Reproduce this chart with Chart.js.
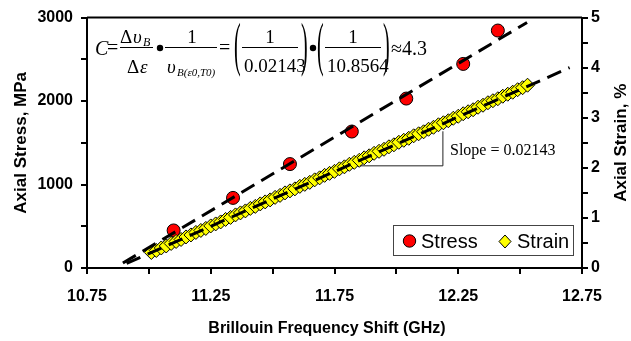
<!DOCTYPE html>
<html>
<head>
<meta charset="utf-8">
<script src="https://cdn.jsdelivr.net/npm/chart.js@4.4.1/dist/chart.umd.min.js"></script>
<style>
  body { margin: 0; background: #fff; }
  #wrap { width: 631px; height: 341px; }
</style>
</head>
<body>
<div id="wrap"><canvas id="chart" width="631" height="341"></canvas></div>
<script>
// stress points (red circles)
const stressFreq = [11.10, 11.34, 11.57, 11.82, 12.04, 12.27, 12.41];
const stressVal = [450, 840, 1245, 1635, 2030, 2445, 2845];

// strain points (yellow diamonds, densely packed)
const strainFreq = [
  11.01, 11.03, 11.05, 11.07, 11.09, 11.11, 11.13, 11.15, 11.17, 11.19,
  11.21, 11.23, 11.25, 11.27, 11.29, 11.31, 11.33, 11.35, 11.37, 11.39,
  11.41, 11.43, 11.45, 11.47, 11.49, 11.51, 11.53, 11.55, 11.57, 11.59,
  11.61, 11.63, 11.65, 11.67, 11.69, 11.71, 11.73, 11.75, 11.77, 11.79,
  11.81, 11.83, 11.85, 11.87, 11.89, 11.91, 11.93, 11.95, 11.97, 11.99,
  12.01, 12.03, 12.05, 12.07, 12.09, 12.11, 12.13, 12.15, 12.17, 12.19,
  12.21, 12.23, 12.25, 12.27, 12.29, 12.31, 12.33, 12.35, 12.37, 12.39,
  12.41, 12.43, 12.45, 12.47, 12.49, 12.51, 12.53
];
const strainVal = [
  0.31, 0.35, 0.40, 0.44, 0.49, 0.53, 0.57, 0.62, 0.66, 0.71,
  0.75, 0.79, 0.84, 0.88, 0.92, 0.97, 1.01, 1.06, 1.10, 1.14,
  1.19, 1.23, 1.28, 1.32, 1.36, 1.41, 1.45, 1.50, 1.54, 1.58,
  1.63, 1.67, 1.71, 1.76, 1.80, 1.85, 1.89, 1.93, 1.98, 2.02,
  2.07, 2.11, 2.15, 2.20, 2.24, 2.29, 2.33, 2.37, 2.42, 2.46,
  2.51, 2.55, 2.59, 2.64, 2.68, 2.72, 2.77, 2.81, 2.86, 2.90,
  2.94, 2.99, 3.03, 3.08, 3.12, 3.16, 3.21, 3.25, 3.30, 3.34,
  3.38, 3.43, 3.47, 3.51, 3.56, 3.60, 3.65
];

// dashed trend lines (end points)
const stressTrendFreq = [10.895, 12.528];
const stressTrendVal = [59, 2941];
const strainTrendFreq = [10.91, 12.70];
const strainTrendVal = [0.09, 4.0];

// slope triangle under the strain line
const slopeFreq = [11.853, 12.188, 12.188];
const slopeVal = [2.04, 2.04, 2.73];

const xTicks = [10.75, 11.25, 11.75, 12.25, 12.75];
const stressTicks = [0, 1000, 2000, 3000];
const strainTicks = [0, 1, 2, 3, 4, 5];

const sans = "'Liberation Sans', Arial, sans-serif";
const serif = "'Liberation Serif', 'Times New Roman', serif";

function pts(xs, ys) {
  return xs.map((x, i) => ({ x: x, y: ys[i] }));
}

function isIn(list, v) {
  return list.some(t => Math.abs(t - v) < 1e-6);
}

// formula, titles, legend, frame
const extras = {
  id: "extras",
  afterDraw(chart) {
    const ctx = chart.ctx;
    const a = chart.chartArea;
    ctx.save();
    ctx.fillStyle = "#000";
    ctx.strokeStyle = "#000";

    // top edge of the plot frame
    ctx.lineWidth = 2;
    ctx.beginPath();
    ctx.moveTo(a.left, a.top);
    ctx.lineTo(a.right, a.top);
    ctx.stroke();

    // axis titles
    ctx.font = "bold 17px " + sans;
    ctx.textAlign = "center";
    ctx.textBaseline = "middle";
    const midY = (a.top + a.bottom) / 2;
    ctx.save();
    ctx.translate(21, midY);
    ctx.rotate(-Math.PI / 2);
    ctx.fillText("Axial Stress, MPa", 0, 0);
    ctx.restore();
    ctx.save();
    ctx.translate(621, midY);
    ctx.rotate(-Math.PI / 2);
    ctx.fillText("Axial Strain, %", 0, 0);
    ctx.restore();
    ctx.font = "bold 16px " + sans;
    ctx.fillText("Brillouin Frequency Shift (GHz)", 327, 329);

    // formula
    ctx.textAlign = "left";
    ctx.textBaseline = "alphabetic";
    ctx.lineWidth = 1;
    const it = s => "italic " + s + "px " + serif;
    const rm = s => s + "px " + serif;
    const bar = (x1, x2, y) => {
      ctx.beginPath();
      ctx.moveTo(x1, y + 0.5);
      ctx.lineTo(x2, y + 0.5);
      ctx.stroke();
    };
    const dot = x => {
      ctx.beginPath();
      ctx.arc(x, 48, 3.2, 0, Math.PI * 2);
      ctx.fill();
    };
    const paren = (ch, x) => {
      ctx.save();
      ctx.translate(x, 48.5);
      ctx.scale(1, 3.0);
      ctx.font = rm(20);
      ctx.fillText(ch, 0, 5);
      ctx.restore();
    };
    ctx.font = it(20);
    ctx.fillText("C", 95, 55);
    ctx.font = rm(20);
    ctx.fillText("=", 107, 54);
    // dv/de
    ctx.font = rm(19);
    ctx.fillText("\u0394", 120, 43);
    ctx.font = it(19);
    ctx.fillText("\u03c5", 133, 43);
    ctx.font = it(12);
    ctx.fillText("B", 143, 46);
    bar(120, 153, 47);
    ctx.font = rm(19);
    ctx.fillText("\u0394", 127, 73);
    ctx.font = it(19);
    ctx.fillText("\u03b5", 140, 73);
    dot(160);
    // 1/v
    ctx.font = rm(19);
    ctx.textAlign = "center";
    ctx.fillText("1", 192, 43);
    ctx.textAlign = "left";
    bar(165, 217, 47);
    ctx.font = it(19);
    ctx.fillText("\u03c5", 167, 73);
    ctx.font = it(11);
    ctx.fillText("B(\u03b50,T0)", 177, 76);
    ctx.font = rm(20);
    ctx.fillText("=", 219, 54);
    // (1/0.02143)
    paren("(", 234);
    ctx.font = rm(19);
    ctx.textAlign = "center";
    ctx.fillText("1", 270, 43);
    ctx.textAlign = "left";
    bar(242, 298, 47);
    ctx.fillText("0.02143", 244, 72);
    paren(")", 301);
    dot(313);
    // (1/10.8564)
    paren("(", 317);
    ctx.font = rm(19);
    ctx.textAlign = "center";
    ctx.fillText("1", 353, 43);
    ctx.textAlign = "left";
    bar(325, 381, 47);
    ctx.fillText("10.8564", 327, 72);
    paren(")", 383);
    ctx.font = rm(20);
    ctx.fillText("\u22484.3", 391, 55);

    // slope label
    ctx.font = rm(16);
    ctx.fillText("Slope = 0.02143", 450, 155);

    // legend
    ctx.fillStyle = "#fff";
    ctx.fillRect(393, 225, 180, 30);
    ctx.strokeStyle = "#444";
    ctx.lineWidth = 1;
    ctx.strokeRect(393.5, 225.5, 180, 30);
    ctx.strokeStyle = "#000";
    ctx.fillStyle = "#ff0000";
    ctx.beginPath();
    ctx.arc(409.5, 241, 6.2, 0, Math.PI * 2);
    ctx.fill();
    ctx.stroke();
    ctx.fillStyle = "#ffff00";
    ctx.beginPath();
    ctx.moveTo(505, 235);
    ctx.lineTo(511, 241.5);
    ctx.lineTo(505, 248);
    ctx.lineTo(499, 241.5);
    ctx.closePath();
    ctx.fill();
    ctx.stroke();
    ctx.fillStyle = "#000";
    ctx.font = "20px " + sans;
    ctx.textBaseline = "middle";
    ctx.fillText("Stress", 421, 242);
    ctx.fillText("Strain", 517, 242);

    ctx.restore();
  }
};

const tickGrid = {
  drawOnChartArea: false,
  drawTicks: true,
  tickLength: 6,
  color: "#000",
  lineWidth: 2
};

new Chart(document.getElementById("chart").getContext("2d"), {
  type: "scatter",
  data: {
    datasets: [
      {
        label: "Stress trend",
        data: pts(stressTrendFreq, stressTrendVal),
        yAxisID: "y",
        showLine: true,
        borderColor: "#000",
        borderWidth: 3,
        borderDash: [15, 8],
        pointRadius: 0,
        order: 1
      },
      {
        label: "Strain trend",
        data: pts(strainTrendFreq, strainTrendVal),
        yAxisID: "y2",
        showLine: true,
        borderColor: "#000",
        borderWidth: 3,
        borderDash: [15, 8],
        pointRadius: 0,
        order: 1
      },
      {
        label: "Slope",
        data: pts(slopeFreq, slopeVal),
        yAxisID: "y2",
        showLine: true,
        borderColor: "#222",
        borderWidth: 1,
        pointRadius: 0,
        order: 0
      },
      {
        label: "Stress",
        data: pts(stressFreq, stressVal),
        yAxisID: "y",
        pointStyle: "circle",
        pointRadius: 6.5,
        backgroundColor: "#ff0000",
        borderColor: "#000",
        borderWidth: 1,
        order: 3
      },
      {
        label: "Strain",
        data: pts(strainFreq, strainVal),
        yAxisID: "y2",
        pointStyle: "rectRot",
        pointRadius: 7,
        backgroundColor: "#ffff00",
        borderColor: "#000",
        borderWidth: 1,
        order: 2
      }
    ]
  },
  options: {
    responsive: false,
    animation: false,
    layout: { padding: { top: 15, left: 0, right: 0, bottom: 0 } },
    plugins: {
      legend: { display: false },
      tooltip: { enabled: false }
    },
    scales: {
      x: {
        type: "linear",
        position: "bottom",
        min: 10.75,
        max: 12.75,
        afterFit: s => { s.height = 73; },
        grid: tickGrid,
        border: { color: "#000", width: 2 },
        ticks: {
          stepSize: 0.25,
          autoSkip: false,
          maxRotation: 0,
          padding: 13,
          color: "#000",
          font: { family: sans, size: 16, weight: "bold" },
          callback: v => isIn(xTicks, v) ? v.toFixed(2) : ""
        }
      },
      y: {
        position: "left",
        min: 0,
        max: 3000,
        afterFit: s => { s.width = 87; },
        grid: tickGrid,
        border: { color: "#000", width: 2 },
        ticks: {
          stepSize: 500,
          autoSkip: false,
          padding: 8,
          color: "#000",
          font: { family: sans, size: 16, weight: "bold" },
          callback: v => isIn(stressTicks, v) ? String(v) : ""
        }
      },
      y2: {
        position: "right",
        min: 0,
        max: 5,
        afterFit: s => { s.width = 49; },
        grid: tickGrid,
        border: { color: "#000", width: 2 },
        ticks: {
          stepSize: 0.5,
          autoSkip: false,
          padding: 3,
          color: "#000",
          font: { family: sans, size: 16, weight: "bold" },
          callback: v => isIn(strainTicks, v) ? String(v) : ""
        }
      }
    }
  },
  plugins: [extras]
});
</script>
</body>
</html>
